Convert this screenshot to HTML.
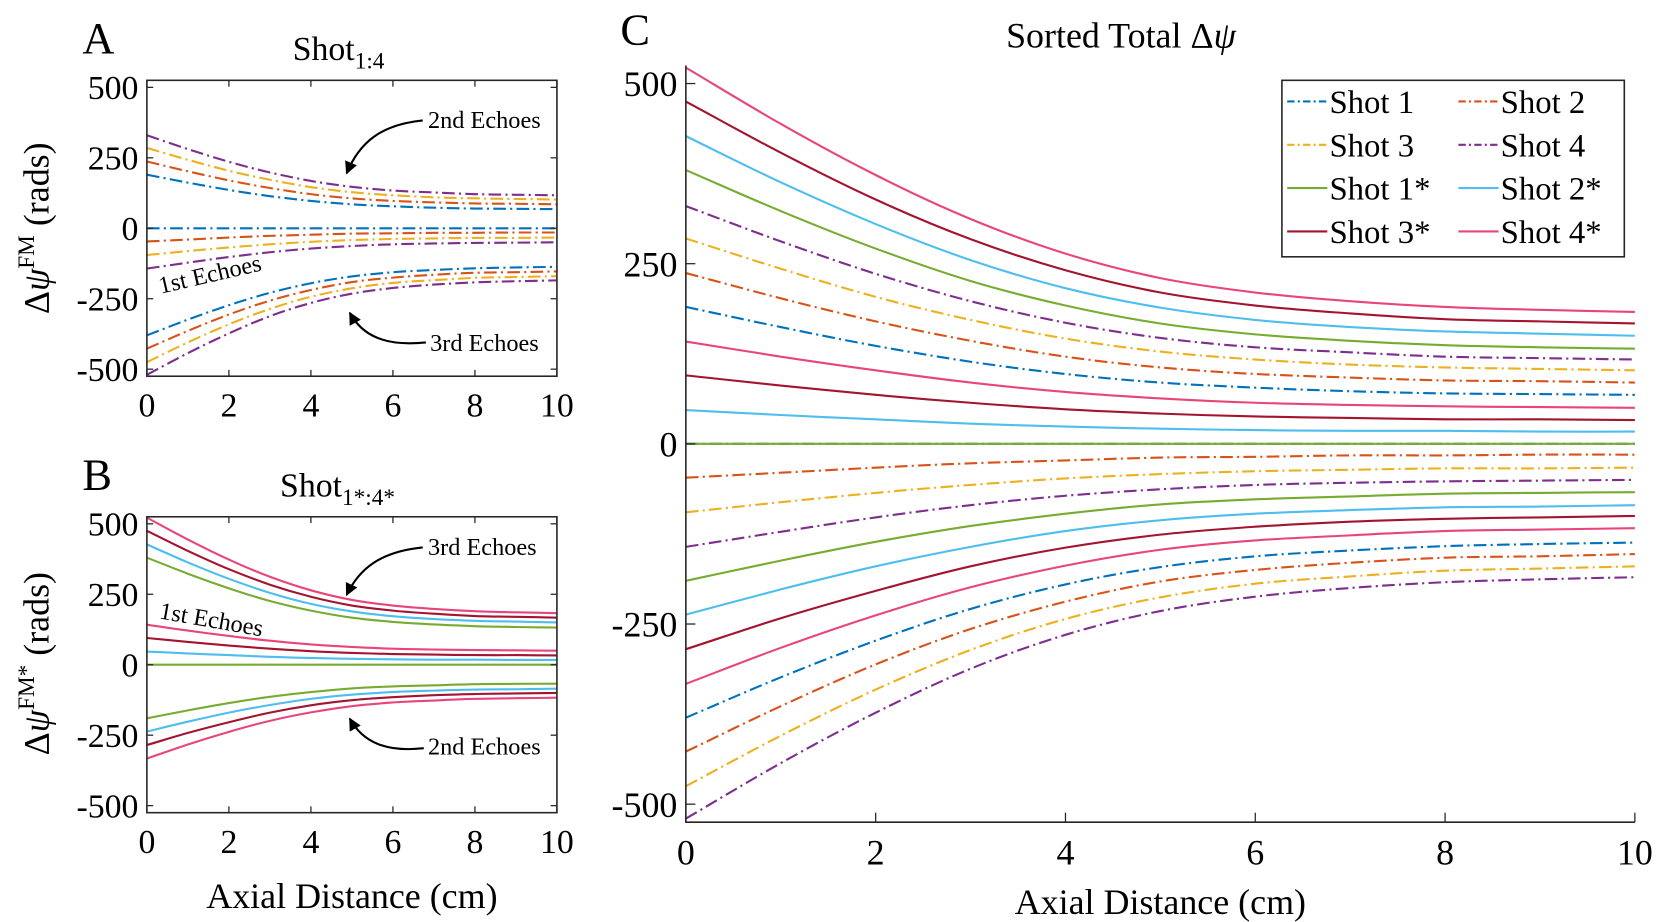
<!DOCTYPE html>
<html><head><meta charset="utf-8"><style>
body{margin:0;background:#fff}
svg{display:block;font-family:"Liberation Serif",serif}
</style></head><body>
<svg id="fig" width="1657" height="922" viewBox="0 0 1657 922" xmlns="http://www.w3.org/2000/svg">
<defs>
<marker id="ah" viewBox="0 0 10 10" refX="9" refY="5" markerWidth="6" markerHeight="6" orient="auto"><path d="M0,0L10,5L0,10z" fill="#000"/></marker>
</defs>
<g transform="scale(1.0568)">
<g id="static">
<text x="78" y="50" font-size="42">A</text>
<text x="277" y="57" font-size="32">Shot<tspan font-size="22" dy="8">1:4</tspan></text>
<text x="78" y="463" font-size="42">B</text>
<text x="265" y="470" font-size="32">Shot<tspan font-size="22" dy="8">1*:4*</tspan></text>
<text x="587" y="42" font-size="42">C</text>
<text x="952" y="45" font-size="34">Sorted Total Δ<tspan font-style="italic">ψ</tspan></text>
<text transform="translate(46,216) rotate(-90)" text-anchor="middle" font-size="34">Δ<tspan font-style="italic">ψ</tspan><tspan font-size="22" dy="-14">FM</tspan><tspan dy="14"> (rads)</tspan></text>
<text transform="translate(46,628) rotate(-90)" text-anchor="middle" font-size="34">Δ<tspan font-style="italic">ψ</tspan><tspan font-size="22" dy="-14">FM*</tspan><tspan dy="14"> (rads)</tspan></text>
<text x="333" y="859" text-anchor="middle" font-size="34">Axial Distance (cm)</text>
<text x="1098" y="865" text-anchor="middle" font-size="34">Axial Distance (cm)</text>
<text x="405" y="121" font-size="23">2nd Echoes</text>
<path d="M400,114 C360,118 340,135 328,164" fill="none" stroke="#000" stroke-width="2" marker-end="url(#ah)"/>
<text x="407" y="332" font-size="23">3rd Echoes</text>
<path d="M403,324 C365,328 343,318 331,296" fill="none" stroke="#000" stroke-width="2" marker-end="url(#ah)"/>
<text transform="translate(152,278) rotate(-13)" font-size="23">1st Echoes</text>
<text x="405" y="525" font-size="23">3rd Echoes</text>
<path d="M400,518 C360,522 340,538 328,563" fill="none" stroke="#000" stroke-width="2" marker-end="url(#ah)"/>
<text x="405" y="714" font-size="23">2nd Echoes</text>
<path d="M401,708 C365,712 343,702 331,680" fill="none" stroke="#000" stroke-width="2" marker-end="url(#ah)"/>
<text transform="translate(150,585) rotate(10)" font-size="23">1st Echoes</text>
</g>
<g id="plots"></g>
</g>
</svg>
<script>
const xs = [0,1,2,3,4,5,6,7,8,9,10];
const xTicksAB = [0,2,4,6,8,10];
const xTicksC = [0,2,4,6,8,10];
const yTicksAB = [500,250,0,-250,-500];
const yTicksC = [500,250,0,-250,-500];
const seriesNames = ["Shot 1","Shot 2","Shot 3","Shot 4","Shot 1*","Shot 2*","Shot 3*","Shot 4*"];
const colors = ["#0072BD","#D95319","#EDB120","#7E2F8E","#77AC30","#4DBEEE","#A2142F","#E8457C"];
const shot1 = [[190,162,136,114,97,85,78,73,70,69,68],[0,0,0,0,0,0,0,0,0,0,0],[-380,-324,-273,-229,-195,-171,-156,-148,-142,-139,-137]];
const shot2 = [[237,202,170,143,121,106,97,92,88,87,85],[-47,-40,-33,-27,-23,-19,-18,-16,-16,-15,-15],[-427,-364,-306,-257,-219,-191,-175,-165,-158,-156,-153]];
const shot3 = [[285,243,204,172,146,128,117,110,106,104,102],[-95,-81,-68,-57,-48,-42,-38,-36,-34,-34,-33],[-475,-405,-341,-286,-243,-213,-194,-184,-176,-173,-170]];
const shot4 = [[330,281,236,198,168,147,134,127,121,119,117],[-143,-122,-102,-85,-72,-63,-57,-54,-52,-51,-50],[-520,-443,-373,-312,-265,-232,-212,-200,-192,-188,-185]];
const shot1s = [[380,323,271,226,192,167,152,143,137,134,132],[0,0,0,0,0,0,0,0,0,0,0],[-190,-162,-136,-114,-97,-84,-77,-73,-69,-68,-67]];
const shot2s = [[427,363,305,255,216,189,172,162,156,153,150],[47,40,34,28,24,21,19,18,18,17,17],[-237,-202,-170,-143,-121,-106,-97,-92,-88,-87,-85]];
const shot3s = [[475,404,339,284,241,210,192,181,173,170,167],[95,81,68,57,48,42,38,36,34,34,33],[-285,-242,-204,-170,-144,-126,-115,-108,-104,-102,-100]];
const shot4s = [[522,444,373,312,264,230,210,198,190,186,183],[142,121,102,85,72,63,57,54,52,51,50],[-333,-283,-238,-199,-169,-147,-134,-127,-121,-119,-117]];
const shots = [shot1,shot2,shot3,shot4,shot1s,shot2s,shot3s,shot4s];

const NS="http://www.w3.org/2000/svg";
const root=document.getElementById('plots');
function mk(tag,attrs,parent){const e=document.createElementNS(NS,tag);for(const k in attrs)e.setAttribute(k,attrs[k]);(parent||root).appendChild(e);return e;}

function smoothPath(pts){
  let d="M"+pts[0][0].toFixed(1)+","+pts[0][1].toFixed(1);
  for(let i=0;i<pts.length-1;i++){
    const p0=i===0?[2*pts[0][0]-pts[1][0],2*pts[0][1]-pts[1][1]]:pts[i-1];
    const p1=pts[i],p2=pts[i+1];
    const p3=i+2<pts.length?pts[i+2]:[2*p2[0]-p1[0],2*p2[1]-p1[1]];
    const c1=[p1[0]+(p2[0]-p0[0])/6,p1[1]+(p2[1]-p0[1])/6];
    const c2=[p2[0]-(p3[0]-p1[0])/6,p2[1]-(p3[1]-p1[1])/6];
    d+=" C"+c1[0].toFixed(1)+","+c1[1].toFixed(1)+" "+c2[0].toFixed(1)+","+c2[1].toFixed(1)+" "+p2[0].toFixed(1)+","+p2[1].toFixed(1);
  }
  return d;
}

function panel(name,x0,x1,yTop,yBot,yMax,yMin,box,series,xTicks,yTicks,fs,dash){
  const g=mk('g',{});
  
  
  const sx=v=>x0+(v-0)/(10-0)*(x1-x0);
  const sy=v=>yTop+(yMax-v)/(yMax-yMin)*(yBot-yTop);
  series.forEach(si=>{
    shots[si].forEach((arr,k)=>{
      const pts=xs.map((x,i)=>[sx(x),sy(arr[i])]);
      const p=mk('path',{d:smoothPath(pts),fill:'none',stroke:colors[si],'stroke-width':2,'stroke-dasharray':si<4?dash:'none'},g);
      
      
    });
  });
  const ax=mk('g',{},g);
  
  
  if(box){mk('rect',{x:x0,y:yTop,width:x1-x0,height:yBot-yTop,fill:'none',stroke:'#262626','stroke-width':1.5},ax);}
  else{mk('path',{d:`M${x0},${yTop}V${yBot}H${x1}`,fill:'none',stroke:'#262626','stroke-width':1.5},ax);}
  const tl=box?6:9;
  xTicks.forEach(t=>{
    mk('line',{x1:sx(t),x2:sx(t),y1:yBot,y2:yBot-tl,stroke:'#262626','stroke-width':1.2},ax);
    if(box)mk('line',{x1:sx(t),x2:sx(t),y1:yTop,y2:yTop+tl,stroke:'#262626','stroke-width':1.2},ax);
    const tx=mk('text',{x:sx(t),y:yBot+fs+6,'text-anchor':'middle','font-size':fs},ax);
    tx.textContent=t;
    
    
  });
  yTicks.forEach(t=>{
    mk('line',{x1:x0,x2:x0+tl,y1:sy(t),y2:sy(t),stroke:'#262626','stroke-width':1.2},ax);
    if(box)mk('line',{x1:x1,x2:x1-tl,y1:sy(t),y2:sy(t),stroke:'#262626','stroke-width':1.2},ax);
    const tx=mk('text',{x:x0-8,y:sy(t)+fs*0.35,'text-anchor':'end','font-size':fs},ax);
    tx.textContent=t;
    
    
  });
}
panel('panel-a',139,527,76,356,525,-525,true,[0,1,2,3],xTicksAB,yTicksAB,32,'12,4,2,4');
panel('panel-b',139,527,489,769,525,-525,true,[4,5,6,7],xTicksAB,yTicksAB,32,'none');
panel('panel-c',649,1547,62,778,525,-525,false,[0,1,2,3,4,5,6,7],xTicksC,yTicksC,34,'12,4,2,4');

const lg=mk('g',{});


mk('rect',{x:1213,y:76,width:324,height:167,fill:'#fff',stroke:'#262626','stroke-width':1.5},lg);
seriesNames.forEach((n,i)=>{
  const col=i%2,row=Math.floor(i/2);
  const lx=col?1380:1218, ly=96+row*41;
  const e=mk('g',{},lg);
  
  
  mk('line',{x1:lx,x2:lx+38,y1:ly,y2:ly,stroke:colors[i],'stroke-width':2,'stroke-dasharray':i<4?'7,3,2,3':'none'},e);
  const t=mk('text',{x:lx+40,y:ly+11,'font-size':31},e);
  t.textContent=n;
});
</script>
</body></html>
